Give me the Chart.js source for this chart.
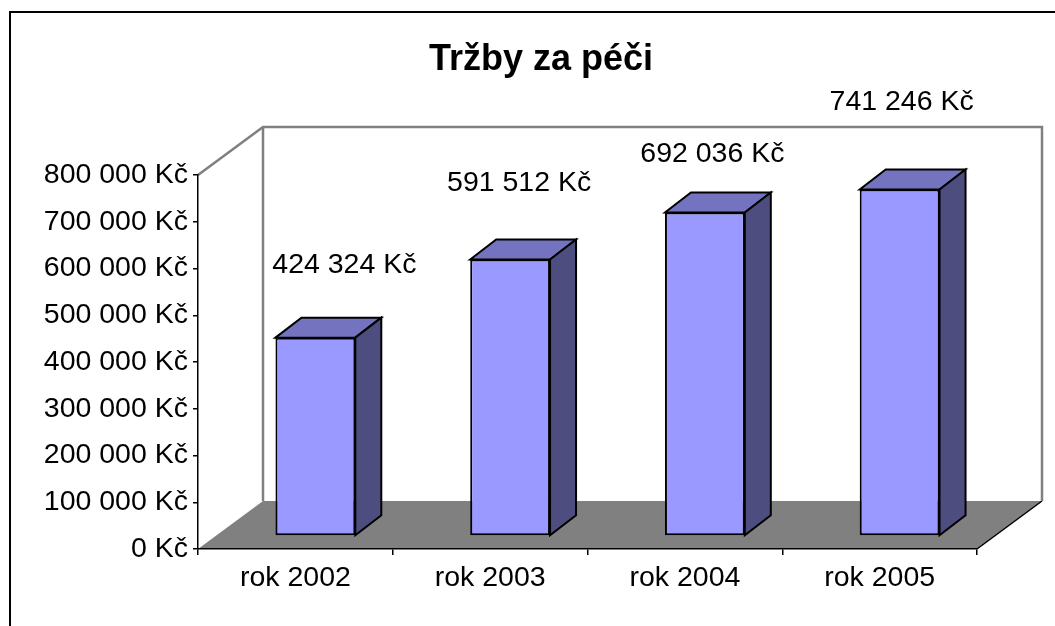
<!DOCTYPE html>
<html>
<head>
    <title>Tržby za péči</title>
    <style>
        body {
            margin: 0;
            background: #FFFFFF;
        }
    </style>
    <script src="https://cdn.jsdelivr.net/npm/chart.js"></script>
</head>
<body>
    <canvas id="chart" width="1055" height="626"></canvas>
    <script>
        const years = ['rok 2002', 'rok 2003', 'rok 2004', 'rok 2005'];
        const revenue = [424324, 591512, 692036, 741246];
        const axisMax = 800000;
        const axisStep = 100000;

        const FONT = '"Liberation Sans", Arial, sans-serif';

        function kc(v) {
            return String(Math.round(v)).replace(/\B(?=(\d{3})+(?!\d))/g, ' ') + ' Kč';
        }

        function poly(ctx, pts, fill) {
            ctx.beginPath();
            ctx.moveTo(pts[0][0], pts[0][1]);
            for (let i = 1; i < pts.length; i++) ctx.lineTo(pts[i][0], pts[i][1]);
            ctx.closePath();
            ctx.fillStyle = fill;
            ctx.fill();
            ctx.stroke();
        }

        // fake excel 3d look: walls + floor behind, extra faces on the bars
        const depth3d = {
            id: 'depth3d',
            beforeDraw(chart, args, o) {
                const ctx = chart.ctx, a = chart.chartArea;
                const dx = o.wall[0], dy = o.wall[1];
                ctx.save();
                ctx.fillStyle = '#fff';
                ctx.fillRect(0, 0, chart.width, chart.height);

                // outer frame, runs off the right and bottom edge
                ctx.strokeStyle = '#000';
                ctx.lineWidth = 2;
                ctx.beginPath();
                ctx.moveTo(10, chart.height + 5);
                ctx.lineTo(10, 12);
                ctx.lineTo(chart.width + 5, 12);
                ctx.stroke();

                // floor
                ctx.fillStyle = '#808080';
                ctx.beginPath();
                ctx.moveTo(a.left, a.bottom);
                ctx.lineTo(a.left + dx, a.bottom + dy);
                ctx.lineTo(a.right + dx, a.bottom + dy);
                ctx.lineTo(a.right, a.bottom);
                ctx.closePath();
                ctx.fill();

                ctx.strokeStyle = '#000';
                ctx.lineWidth = 1.5;
                ctx.beginPath();
                ctx.moveTo(a.right, a.bottom);
                ctx.lineTo(a.right + dx, a.bottom + dy);
                ctx.stroke();

                // walls
                ctx.strokeStyle = '#808080';
                ctx.lineWidth = 2.5;
                ctx.beginPath();
                ctx.moveTo(a.left, a.top);
                ctx.lineTo(a.left + dx, a.top + dy);
                ctx.lineTo(a.right + dx, a.top + dy);
                ctx.lineTo(a.right + dx, a.bottom + dy);
                ctx.moveTo(a.left + dx, a.top + dy);
                ctx.lineTo(a.left + dx, a.bottom + dy);
                ctx.stroke();
                ctx.restore();
            },
            beforeDatasetsDraw(chart, args, o) {
                chart.ctx.save();
                chart.ctx.translate(o.front[0], o.front[1]);
            },
            afterDatasetsDraw(chart, args, o) {
                const ctx = chart.ctx;
                ctx.restore();
                const fx = o.front[0], fy = o.front[1];
                const bx = o.depth[0], by = o.depth[1];
                const meta = chart.getDatasetMeta(0);
                ctx.save();
                ctx.strokeStyle = '#000';
                ctx.lineWidth = 2;
                meta.data.forEach((bar, i) => {
                    const p = bar.getProps(['x', 'y', 'base', 'width'], true);
                    const l = p.x - p.width / 2 + fx;
                    const r = p.x + p.width / 2 + fx;
                    const t = p.y + fy;
                    const b = p.base + fy;
                    poly(ctx, [[l, t], [l + bx, t + by], [r + bx, t + by], [r, t]], o.topColor);
                    poly(ctx, [[r, t], [r + bx, t + by], [r + bx, b + by], [r, b]], o.sideColor);

                    const s = o.labelShift[i];
                    ctx.fillStyle = '#000';
                    ctx.font = '28.5px ' + FONT;
                    ctx.textAlign = 'center';
                    ctx.textBaseline = 'middle';
                    ctx.fillText(kc(revenue[i]), p.x + fx + s[0], t + s[1]);
                });
                ctx.restore();
            }
        };

        new Chart(document.getElementById('chart'), {
            type: 'bar',
            data: {
                labels: years,
                datasets: [{
                    label: 'Tržby',
                    data: revenue,
                    backgroundColor: '#9999FF',
                    borderColor: '#000',
                    borderWidth: 2,
                    borderSkipped: false,
                    categoryPercentage: 1,
                    barPercentage: 0.41
                }]
            },
            options: {
                responsive: false,
                animation: false,
                layout: {
                    padding: { left: 27, right: 0, top: 0, bottom: 0 }
                },
                scales: {
                    x: {
                        grid: { drawOnChartArea: false, color: '#000', tickLength: 6, lineWidth: 1.5 },
                        border: { color: '#000', width: 1.5 },
                        ticks: { color: '#000', padding: 6, maxRotation: 0, autoSkip: false, font: { family: FONT, size: 28.5 } },
                        afterFit: s => { s.height = 77; }
                    },
                    y: {
                        min: 0,
                        max: axisMax,
                        grid: { drawOnChartArea: false, color: '#000', tickLength: 5, lineWidth: 1.5 },
                        border: { color: '#000', width: 1.5 },
                        ticks: {
                            stepSize: axisStep,
                            color: '#000',
                            padding: 5,
                            font: { family: FONT, size: 28.5 },
                            callback: v => kc(v)
                        },
                        afterFit: s => { s.width = 171; }
                    },
                    // empty right axis, only to keep room for the depth
                    side: {
                        type: 'linear',
                        position: 'right',
                        display: true,
                        grid: { display: false },
                        border: { display: false },
                        ticks: { display: false },
                        afterFit: s => { s.width = 78; }
                    }
                },
                plugins: {
                    legend: { display: false },
                    tooltip: { enabled: false },
                    title: {
                        display: true,
                        text: 'Tržby za péči',
                        color: '#000',
                        font: { family: FONT, size: 36, weight: 'bold' },
                        padding: { top: 38.4, bottom: 93.4 }
                    },
                    depth3d: {
                        wall: [65, -48],
                        front: [20, -13],
                        depth: [26, -20],
                        topColor: '#7373BF',
                        sideColor: '#4D4D80',
                        labelShift: [[29, -72], [9, -76], [7.5, -58], [2, -87]]
                    }
                }
            },
            plugins: [depth3d]
        });
    </script>
</body>
</html>
